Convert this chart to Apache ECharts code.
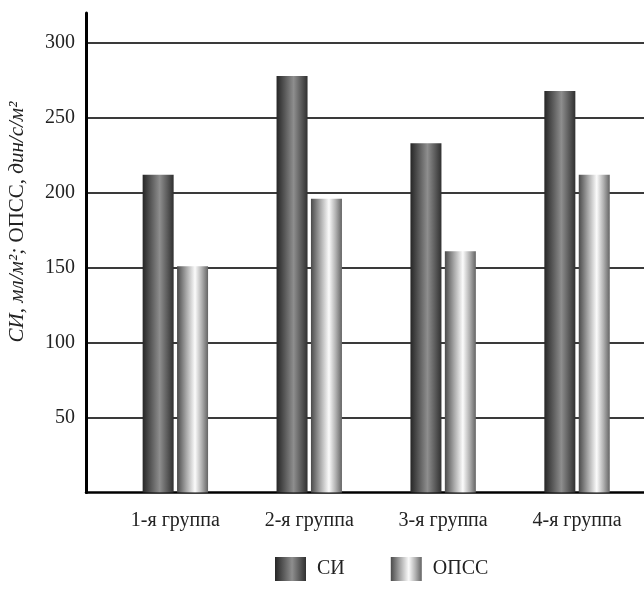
<!DOCTYPE html>
<html>
<head>
<meta charset="utf-8">
<script src="https://cdn.jsdelivr.net/npm/echarts@6/dist/echarts.min.js"></script>
<style>
html,body{margin:0;padding:0;background:#fff;}
#chart{width:644px;height:589px;}
</style>
</head>
<body>
<div id="chart"></div>
<script>
const categories = ['1-я группа', '2-я группа', '3-я группа', '4-я группа'];
const siValues = [212, 278, 233, 268];
const opssValues = [151, 196, 161, 212];
const seriesNames = ['СИ', 'ОПСС'];
const yMin = 0, yMax = 320, yInterval = 50;

const FONT = '"Liberation Serif", "DejaVu Serif", serif';

const darkGrad = {
  type: 'linear', x: 0, y: 0, x2: 1, y2: 0,
  colorStops: [
    {offset: 0, color: '#262626'},
    {offset: 0.25, color: '#555555'},
    {offset: 0.55, color: '#8e8e8e'},
    {offset: 0.8, color: '#5a5a5a'},
    {offset: 1, color: '#303030'}
  ]
};
const lightGrad = {
  type: 'linear', x: 0, y: 0, x2: 1, y2: 0,
  colorStops: [
    {offset: 0, color: '#4a4a4a'},
    {offset: 0.3, color: '#a8a8a8'},
    {offset: 0.58, color: '#fbfbfb'},
    {offset: 0.8, color: '#b0b0b0'},
    {offset: 1, color: '#646464'}
  ]
};

const chart = echarts.init(document.getElementById('chart'), null, {renderer: 'canvas'});
chart.setOption({
  animation: false,
  backgroundColor: '#ffffff',
  legend: {
    data: seriesNames,
    left: 270,
    top: 552,
    itemWidth: 31,
    itemHeight: 24,
    itemGap: 46,
    icon: 'rect',
    textStyle: {fontFamily: FONT, fontSize: 20, color: '#222', padding: [0, 0, 0, 6]}
  },
  graphic: [{
    type: 'text',
    x: 17, y: 222,
    rotation: Math.PI / 2,
    style: {
      text: '{i|СИ, мл/м²; }{n|ОПСС, }{i|дин/с/м²}',
      align: 'center', verticalAlign: 'middle',
      rich: {
        i: {fontFamily: FONT, fontStyle: 'italic', fontSize: 21, fill: '#222'},
        n: {fontFamily: FONT, fontSize: 21, fill: '#222'}
      }
    }
  }],
  grid: [
    {left: 86, right: -40, top: 13, bottom: 96.5},
    {left: 108.4, width: 560, top: 13, bottom: 96.5}
  ],
  xAxis: [
    {
      gridIndex: 0, type: 'value', min: 0, max: 1,
      axisLine: {show: true, lineStyle: {color: '#000', width: 2.5}},
      axisTick: {show: false}, axisLabel: {show: false}, splitLine: {show: false}
    },
    {
      gridIndex: 1, type: 'category', data: categories,
      axisLine: {show: false}, axisTick: {show: false},
      axisLabel: {margin: 18, fontFamily: FONT, fontSize: 20, color: '#222'}
    }
  ],
  yAxis: [
    {
      gridIndex: 0, type: 'value', min: yMin, max: yMax, interval: yInterval,
      axisLine: {show: true, lineStyle: {color: '#000', width: 3}},
      axisTick: {show: false},
      axisLabel: {showMinLabel: false, showMaxLabel: false, margin: 11, fontFamily: FONT, fontSize: 20, color: '#222'},
      splitLine: {show: true, showMinLine: false, showMaxLine: false, lineStyle: {color: '#3a3a3a', width: 2}}
    },
    {
      gridIndex: 1, type: 'value', min: yMin, max: yMax, interval: yInterval, show: false
    }
  ],
  series: [
    {
      name: seriesNames[0], type: 'bar', xAxisIndex: 1, yAxisIndex: 1,
      data: siValues, barWidth: 31, barGap: '11%',
      itemStyle: {color: darkGrad}
    },
    {
      name: seriesNames[1], type: 'bar', xAxisIndex: 1, yAxisIndex: 1,
      data: opssValues, barWidth: 31,
      itemStyle: {color: lightGrad}
    }
  ]
});
</script>
</body>
</html>
